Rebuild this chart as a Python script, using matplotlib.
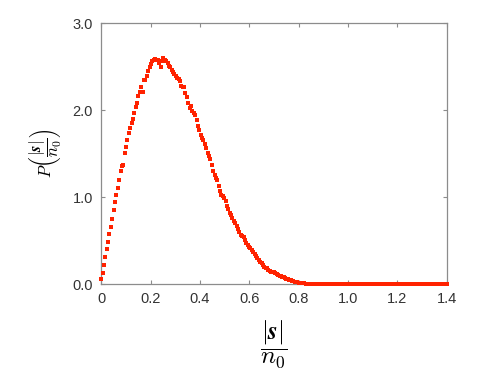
import numpy as np
import matplotlib
matplotlib.use("Agg")
import matplotlib.pyplot as plt
from matplotlib.ticker import FormatStrFormatter

plt.rcParams["mathtext.fontset"] = "cm"

# histogram bin width of |s|/n0 and the measured density in each bin
BIN_WIDTH = 0.0056
P_VALUES = [
    0.06, 0.13, 0.22, 0.31, 0.40, 0.48, 0.58, 0.66, 0.75, 0.85,
    0.94, 1.02, 1.10, 1.20, 1.30, 1.36, 1.37, 1.51, 1.58, 1.66,
    1.74, 1.79, 1.85, 1.90, 1.97, 2.03, 2.08, 2.16, 2.21, 2.26,
    2.21, 2.34, 2.35, 2.39, 2.45, 2.50, 2.53, 2.56, 2.58, 2.59,
    2.58, 2.57, 2.54, 2.50, 2.56, 2.60, 2.58, 2.56, 2.54, 2.51,
    2.49, 2.46, 2.44, 2.42, 2.39, 2.37, 2.36, 2.33, 2.28, 2.27,
    2.26, 2.20, 2.15, 2.08, 2.02, 2.05, 1.99, 1.97, 1.94, 1.89,
    1.82, 1.77, 1.71, 1.68, 1.66, 1.61, 1.56, 1.51, 1.47, 1.44,
    1.37, 1.30, 1.25, 1.22, 1.20, 1.13, 1.07, 1.03, 1.01, 0.99,
    0.95, 0.90, 0.86, 0.82, 0.79, 0.76, 0.73, 0.70, 0.67, 0.63,
    0.60, 0.57, 0.55, 0.54, 0.51, 0.47, 0.45, 0.43, 0.41, 0.39,
    0.37, 0.35, 0.32, 0.30, 0.28, 0.26, 0.24, 0.22, 0.20, 0.19,
    0.18, 0.16, 0.15, 0.145, 0.14, 0.135, 0.13, 0.12, 0.11, 0.095,
    0.09, 0.085, 0.078, 0.07, 0.062, 0.055, 0.05, 0.044, 0.038, 0.033,
    0.027, 0.023, 0.02, 0.017, 0.015, 0.012, 0.01, 0.008, 0.007, 0.005,
    0.004, 0.003, 0.002, 0.002, 0.001, 0.001, 0.0, 0.0, 0.0, 0.0,
    0.0, 0.0, 0.0, 0.0, 0.0, 0.0, 0.0, 0.0, 0.0, 0.0,
    0.0, 0.0, 0.0, 0.0, 0.0, 0.0, 0.0, 0.0, 0.0, 0.0,
    0.0, 0.0, 0.0, 0.0, 0.0, 0.0, 0.0, 0.0, 0.0, 0.0,
    0.0, 0.0, 0.0, 0.0, 0.0, 0.0, 0.0, 0.0, 0.0, 0.0,
    0.0, 0.0, 0.0, 0.0, 0.0, 0.0, 0.0, 0.0, 0.0, 0.0,
    0.0, 0.0, 0.0, 0.0, 0.0, 0.0, 0.0, 0.0, 0.0, 0.0,
    0.0, 0.0, 0.0, 0.0, 0.0, 0.0, 0.0, 0.0, 0.0, 0.0,
    0.0, 0.0, 0.0, 0.0, 0.0, 0.0, 0.0, 0.0, 0.0, 0.0,
    0.0, 0.0, 0.0, 0.0, 0.0, 0.0, 0.0, 0.0, 0.0, 0.0,
    0.0,
]
X_TICKS = [0, 0.2, 0.4, 0.6, 0.8, 1.0, 1.2, 1.4]
X_TICK_LABELS = ["0", "0.2", "0.4", "0.6", "0.8", "1.0", "1.2", "1.4"]
Y_TICKS = [0.0, 1.0, 2.0, 3.0]

MARK_COLOR = "#ff2200"
SPINE_COLOR = "#8c8c8c"


def main():
    s_over_n0 = np.arange(len(P_VALUES)) * BIN_WIDTH

    fig = plt.figure(figsize=(4.91, 3.84), dpi=100)
    ax = fig.add_axes([0.206, 0.260, 0.704, 0.680])

    ax.plot(s_over_n0, P_VALUES, linestyle="none", marker="s",
            markersize=3.5, color=MARK_COLOR, markeredgewidth=0,
            clip_on=False, zorder=3)

    ax.set_xlim(0, 1.4)
    ax.set_ylim(0, 3.0)
    ax.set_xticks(X_TICKS)
    ax.set_xticklabels(X_TICK_LABELS)
    ax.set_yticks(Y_TICKS)
    ax.yaxis.set_major_formatter(FormatStrFormatter("%.1f"))

    for sp in ax.spines.values():
        sp.set_color(SPINE_COLOR)
        sp.set_linewidth(0.9)
    ax.tick_params(direction="in", length=3, width=0.8, color=SPINE_COLOR,
                   top=True, right=True, labelsize=10.5, labelcolor="#333333",
                   pad=6)
    for lab in ax.get_xticklabels() + ax.get_yticklabels():
        lab.set_family("Liberation Sans")

    ax.set_xlabel(r"$\dfrac{|\mathbfit{s}|}{n_0}$", fontsize=18, labelpad=9)
    ax.set_ylabel(r"$P\left(\dfrac{|\mathbfit{s}|}{n_0}\right)$",
                  fontsize=12, labelpad=6)

    fig.savefig("out.png", dpi=100)
    plt.close(fig)


if __name__ == "__main__":
    main()
